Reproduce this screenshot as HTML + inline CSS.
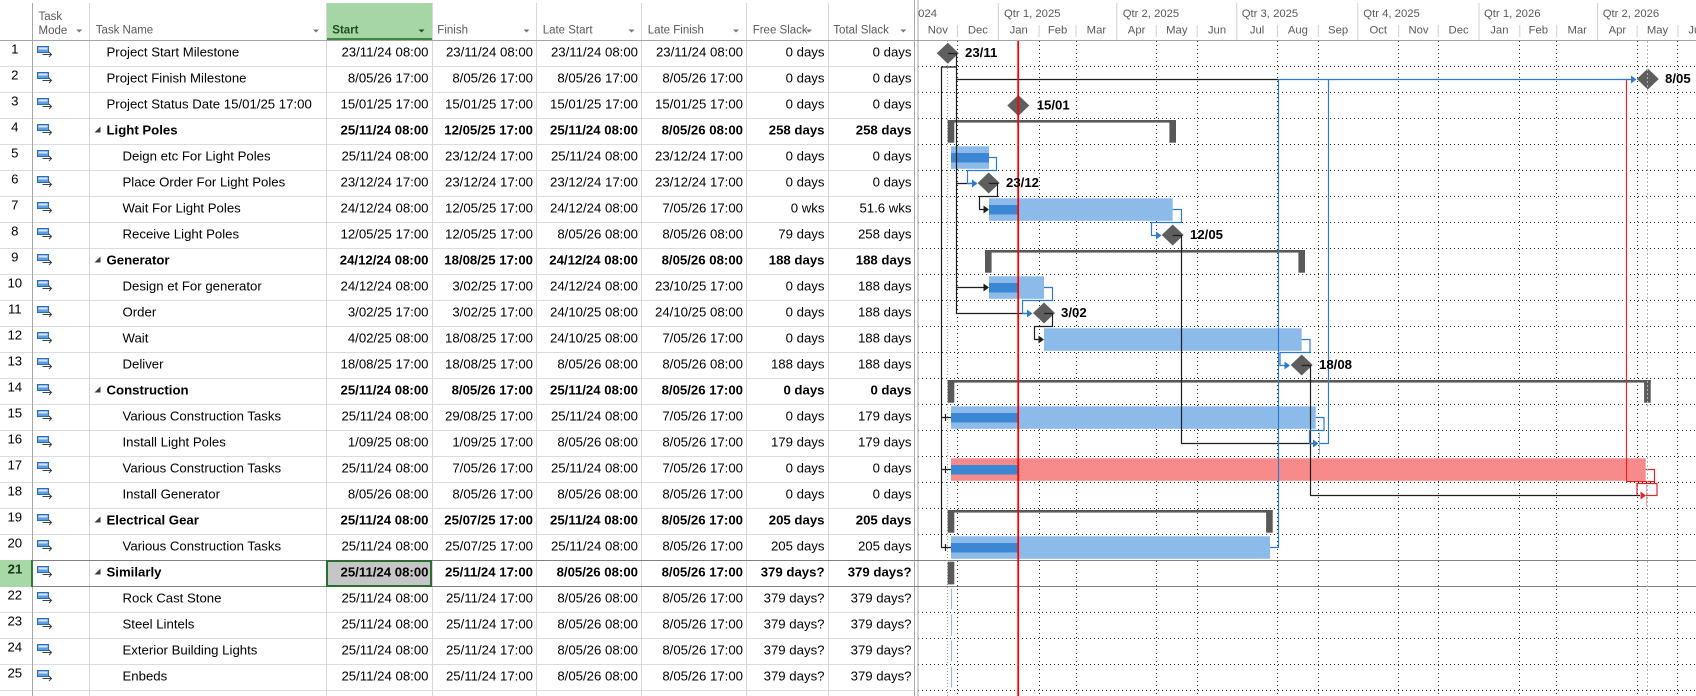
<!DOCTYPE html>
<html><head><meta charset="utf-8"><style>
html,body{margin:0;padding:0;background:#fff;width:1696px;height:696px;overflow:hidden}
svg{display:block}
text{font-family:"Liberation Sans",Arial,sans-serif}
.c text{font-size:13.2px;fill:#000}
.n{font-size:11.5px;fill:#6e6e6e;text-anchor:middle}
.e{text-anchor:end}
.b text{font-weight:bold}
.h{font-size:11.5px;fill:#5a5a5a}
.g{font-size:11.3px;fill:#5a5a5a}
.gm{font-size:11.3px;fill:#5a5a5a;text-anchor:middle}
.ml{font-size:13.2px;font-weight:bold;fill:#000}
</style></head><body>
<svg width="1696" height="696" viewBox="0 0 1696 696" xmlns="http://www.w3.org/2000/svg">
<defs>
<g id="ic"><rect x="37.5" y="6.5" width="11" height="6" fill="#5E9EDD" stroke="#2C6DB8"/><rect x="38.5" y="7.5" width="9" height="2" fill="#D4E6F8"/><path d="M42.5 14.5H51.5M49 12L51.5 14.5L49 17" fill="none" stroke="#404040" stroke-width="1"/></g>
<path id="tri" d="M94.5 14.5H100.5V8.5Z" fill="#3C3C3C"/>
<clipPath id="gc"><rect x="918.5" y="0" width="778" height="696"/></clipPath>
</defs>
<rect width="1696" height="696" fill="#fff"/>

<!-- TABLE GRID -->
<path d="M0 66.5H915M0 92.5H915M0 118.5H915M0 144.5H915M0 170.5H915M0 196.5H915M0 222.5H915M0 248.5H915M0 274.5H915M0 300.5H915M0 326.5H915M0 352.5H915M0 378.5H915M0 404.5H915M0 430.5H915M0 456.5H915M0 482.5H915M0 508.5H915M0 534.5H915M0 612.5H915M0 638.5H915M0 664.5H915M0 690.5H915" stroke="#DCDCDC" stroke-width="1"/>
<rect x="327" y="3" width="105" height="37" fill="#A6D6A6"/>
<rect x="327" y="38" width="105" height="2" fill="#3B8A3F"/>
<path d="M89.5 3V696M326.5 3V696M432.5 3V696M536.5 3V696M641.5 3V696M746.5 3V696M828.5 3V696" stroke="#D6D6D6" stroke-width="1"/>
<path d="M32.5 3V696" stroke="#A8A8A8" stroke-width="1"/>
<path d="M914.5 0V696M918 0V696" stroke="#A8A8A8" stroke-width="1"/>
<path d="M0 40.5H1696" stroke="#A6A6A6" stroke-width="1"/>
<path d="M33 560.5H1696M33 586.5H1696" stroke="#808080" stroke-width="1"/>
<rect x="0" y="560" width="32" height="27" fill="#A8D8A8"/>
<rect x="31" y="560" width="2" height="27" fill="#2E7D32"/>
<rect x="327" y="561" width="104" height="25" fill="#C6C6C6" stroke="#2A6E34" stroke-width="2"/>

<!-- TABLE HEADER -->
<text class="h" x="38.5" y="20">Task</text>
<text class="h" x="38.5" y="34">Mode</text>
<text class="h" x="95.7" y="33.5">Task Name</text>
<text class="h" x="332.3" y="33.5" style="font-weight:bold;fill:#1D4F1D">Start</text>
<text class="h" x="437.3" y="33.5">Finish</text>
<text class="h" x="542.7" y="33.5">Late Start</text>
<text class="h" x="647.7" y="33.5">Late Finish</text>
<text class="h" x="752.7" y="33.5">Free Slack</text>
<text class="h" x="833.3" y="33.5">Total Slack</text>
<path d="M76.2 29.5H82.2L79.2 32.5ZM313 29.5H319L316 32.5ZM523.5 29.5H529.5L526.5 32.5ZM628.5 29.5H634.5L631.5 32.5ZM733 29.5H739L736 32.5ZM806 29.5H812L809 32.5ZM900.3 29.5H906.3L903.3 32.5Z" fill="#777"/>
<path d="M418.5 29.5H424.5L421.5 32.5Z" fill="#1D4F1D"/>

<!-- TABLE ROWS -->
<g class="c" transform="translate(0,40)"><text class="n" x="14.8" y="13.3">1</text><use href="#ic"/><text x="106.5" y="16.5">Project Start Milestone</text><text class="e" x="428.5" y="16.5">23/11/24 08:00</text><text class="e" x="533" y="16.5">23/11/24 08:00</text><text class="e" x="638" y="16.5">23/11/24 08:00</text><text class="e" x="743" y="16.5">23/11/24 08:00</text><text class="e" x="824.5" y="16.5">0 days</text><text class="e" x="911.5" y="16.5">0 days</text></g>
<g class="c" transform="translate(0,66)"><text class="n" x="14.8" y="13.3">2</text><use href="#ic"/><text x="106.5" y="16.5">Project Finish Milestone</text><text class="e" x="428.5" y="16.5">8/05/26 17:00</text><text class="e" x="533" y="16.5">8/05/26 17:00</text><text class="e" x="638" y="16.5">8/05/26 17:00</text><text class="e" x="743" y="16.5">8/05/26 17:00</text><text class="e" x="824.5" y="16.5">0 days</text><text class="e" x="911.5" y="16.5">0 days</text></g>
<g class="c" transform="translate(0,92)"><text class="n" x="14.8" y="13.3">3</text><use href="#ic"/><text x="106.5" y="16.5">Project Status Date 15/01/25 17:00</text><text class="e" x="428.5" y="16.5">15/01/25 17:00</text><text class="e" x="533" y="16.5">15/01/25 17:00</text><text class="e" x="638" y="16.5">15/01/25 17:00</text><text class="e" x="743" y="16.5">15/01/25 17:00</text><text class="e" x="824.5" y="16.5">0 days</text><text class="e" x="911.5" y="16.5">0 days</text></g>
<g class="c b" transform="translate(0,118)"><text class="n" x="14.8" y="13.3" style="font-weight:normal">4</text><use href="#ic"/><use href="#tri"/><text x="106.5" y="16.5">Light Poles</text><text class="e" x="428.5" y="16.5">25/11/24 08:00</text><text class="e" x="533" y="16.5">12/05/25 17:00</text><text class="e" x="638" y="16.5">25/11/24 08:00</text><text class="e" x="743" y="16.5">8/05/26 08:00</text><text class="e" x="824.5" y="16.5">258 days</text><text class="e" x="911.5" y="16.5">258 days</text></g>
<g class="c" transform="translate(0,144)"><text class="n" x="14.8" y="13.3">5</text><use href="#ic"/><text x="122.5" y="16.5">Deign etc For Light Poles</text><text class="e" x="428.5" y="16.5">25/11/24 08:00</text><text class="e" x="533" y="16.5">23/12/24 17:00</text><text class="e" x="638" y="16.5">25/11/24 08:00</text><text class="e" x="743" y="16.5">23/12/24 17:00</text><text class="e" x="824.5" y="16.5">0 days</text><text class="e" x="911.5" y="16.5">0 days</text></g>
<g class="c" transform="translate(0,170)"><text class="n" x="14.8" y="13.3">6</text><use href="#ic"/><text x="122.5" y="16.5">Place Order For Light Poles</text><text class="e" x="428.5" y="16.5">23/12/24 17:00</text><text class="e" x="533" y="16.5">23/12/24 17:00</text><text class="e" x="638" y="16.5">23/12/24 17:00</text><text class="e" x="743" y="16.5">23/12/24 17:00</text><text class="e" x="824.5" y="16.5">0 days</text><text class="e" x="911.5" y="16.5">0 days</text></g>
<g class="c" transform="translate(0,196)"><text class="n" x="14.8" y="13.3">7</text><use href="#ic"/><text x="122.5" y="16.5">Wait For Light Poles</text><text class="e" x="428.5" y="16.5">24/12/24 08:00</text><text class="e" x="533" y="16.5">12/05/25 17:00</text><text class="e" x="638" y="16.5">24/12/24 08:00</text><text class="e" x="743" y="16.5">7/05/26 17:00</text><text class="e" x="824.5" y="16.5">0 wks</text><text class="e" x="911.5" y="16.5">51.6 wks</text></g>
<g class="c" transform="translate(0,222)"><text class="n" x="14.8" y="13.3">8</text><use href="#ic"/><text x="122.5" y="16.5">Receive Light Poles</text><text class="e" x="428.5" y="16.5">12/05/25 17:00</text><text class="e" x="533" y="16.5">12/05/25 17:00</text><text class="e" x="638" y="16.5">8/05/26 08:00</text><text class="e" x="743" y="16.5">8/05/26 08:00</text><text class="e" x="824.5" y="16.5">79 days</text><text class="e" x="911.5" y="16.5">258 days</text></g>
<g class="c b" transform="translate(0,248)"><text class="n" x="14.8" y="13.3" style="font-weight:normal">9</text><use href="#ic"/><use href="#tri"/><text x="106.5" y="16.5">Generator</text><text class="e" x="428.5" y="16.5">24/12/24 08:00</text><text class="e" x="533" y="16.5">18/08/25 17:00</text><text class="e" x="638" y="16.5">24/12/24 08:00</text><text class="e" x="743" y="16.5">8/05/26 08:00</text><text class="e" x="824.5" y="16.5">188 days</text><text class="e" x="911.5" y="16.5">188 days</text></g>
<g class="c" transform="translate(0,274)"><text class="n" x="14.8" y="13.3">10</text><use href="#ic"/><text x="122.5" y="16.5">Design et For generator</text><text class="e" x="428.5" y="16.5">24/12/24 08:00</text><text class="e" x="533" y="16.5">3/02/25 17:00</text><text class="e" x="638" y="16.5">24/12/24 08:00</text><text class="e" x="743" y="16.5">23/10/25 17:00</text><text class="e" x="824.5" y="16.5">0 days</text><text class="e" x="911.5" y="16.5">188 days</text></g>
<g class="c" transform="translate(0,300)"><text class="n" x="14.8" y="13.3">11</text><use href="#ic"/><text x="122.5" y="16.5">Order</text><text class="e" x="428.5" y="16.5">3/02/25 17:00</text><text class="e" x="533" y="16.5">3/02/25 17:00</text><text class="e" x="638" y="16.5">24/10/25 08:00</text><text class="e" x="743" y="16.5">24/10/25 08:00</text><text class="e" x="824.5" y="16.5">0 days</text><text class="e" x="911.5" y="16.5">188 days</text></g>
<g class="c" transform="translate(0,326)"><text class="n" x="14.8" y="13.3">12</text><use href="#ic"/><text x="122.5" y="16.5">Wait</text><text class="e" x="428.5" y="16.5">4/02/25 08:00</text><text class="e" x="533" y="16.5">18/08/25 17:00</text><text class="e" x="638" y="16.5">24/10/25 08:00</text><text class="e" x="743" y="16.5">7/05/26 17:00</text><text class="e" x="824.5" y="16.5">0 days</text><text class="e" x="911.5" y="16.5">188 days</text></g>
<g class="c" transform="translate(0,352)"><text class="n" x="14.8" y="13.3">13</text><use href="#ic"/><text x="122.5" y="16.5">Deliver</text><text class="e" x="428.5" y="16.5">18/08/25 17:00</text><text class="e" x="533" y="16.5">18/08/25 17:00</text><text class="e" x="638" y="16.5">8/05/26 08:00</text><text class="e" x="743" y="16.5">8/05/26 08:00</text><text class="e" x="824.5" y="16.5">188 days</text><text class="e" x="911.5" y="16.5">188 days</text></g>
<g class="c b" transform="translate(0,378)"><text class="n" x="14.8" y="13.3" style="font-weight:normal">14</text><use href="#ic"/><use href="#tri"/><text x="106.5" y="16.5">Construction</text><text class="e" x="428.5" y="16.5">25/11/24 08:00</text><text class="e" x="533" y="16.5">8/05/26 17:00</text><text class="e" x="638" y="16.5">25/11/24 08:00</text><text class="e" x="743" y="16.5">8/05/26 17:00</text><text class="e" x="824.5" y="16.5">0 days</text><text class="e" x="911.5" y="16.5">0 days</text></g>
<g class="c" transform="translate(0,404)"><text class="n" x="14.8" y="13.3">15</text><use href="#ic"/><text x="122.5" y="16.5">Various Construction Tasks</text><text class="e" x="428.5" y="16.5">25/11/24 08:00</text><text class="e" x="533" y="16.5">29/08/25 17:00</text><text class="e" x="638" y="16.5">25/11/24 08:00</text><text class="e" x="743" y="16.5">7/05/26 17:00</text><text class="e" x="824.5" y="16.5">0 days</text><text class="e" x="911.5" y="16.5">179 days</text></g>
<g class="c" transform="translate(0,430)"><text class="n" x="14.8" y="13.3">16</text><use href="#ic"/><text x="122.5" y="16.5">Install Light Poles</text><text class="e" x="428.5" y="16.5">1/09/25 08:00</text><text class="e" x="533" y="16.5">1/09/25 17:00</text><text class="e" x="638" y="16.5">8/05/26 08:00</text><text class="e" x="743" y="16.5">8/05/26 17:00</text><text class="e" x="824.5" y="16.5">179 days</text><text class="e" x="911.5" y="16.5">179 days</text></g>
<g class="c" transform="translate(0,456)"><text class="n" x="14.8" y="13.3">17</text><use href="#ic"/><text x="122.5" y="16.5">Various Construction Tasks</text><text class="e" x="428.5" y="16.5">25/11/24 08:00</text><text class="e" x="533" y="16.5">7/05/26 17:00</text><text class="e" x="638" y="16.5">25/11/24 08:00</text><text class="e" x="743" y="16.5">7/05/26 17:00</text><text class="e" x="824.5" y="16.5">0 days</text><text class="e" x="911.5" y="16.5">0 days</text></g>
<g class="c" transform="translate(0,482)"><text class="n" x="14.8" y="13.3">18</text><use href="#ic"/><text x="122.5" y="16.5">Install Generator</text><text class="e" x="428.5" y="16.5">8/05/26 08:00</text><text class="e" x="533" y="16.5">8/05/26 17:00</text><text class="e" x="638" y="16.5">8/05/26 08:00</text><text class="e" x="743" y="16.5">8/05/26 17:00</text><text class="e" x="824.5" y="16.5">0 days</text><text class="e" x="911.5" y="16.5">0 days</text></g>
<g class="c b" transform="translate(0,508)"><text class="n" x="14.8" y="13.3" style="font-weight:normal">19</text><use href="#ic"/><use href="#tri"/><text x="106.5" y="16.5">Electrical Gear</text><text class="e" x="428.5" y="16.5">25/11/24 08:00</text><text class="e" x="533" y="16.5">25/07/25 17:00</text><text class="e" x="638" y="16.5">25/11/24 08:00</text><text class="e" x="743" y="16.5">8/05/26 17:00</text><text class="e" x="824.5" y="16.5">205 days</text><text class="e" x="911.5" y="16.5">205 days</text></g>
<g class="c" transform="translate(0,534)"><text class="n" x="14.8" y="13.3">20</text><use href="#ic"/><text x="122.5" y="16.5">Various Construction Tasks</text><text class="e" x="428.5" y="16.5">25/11/24 08:00</text><text class="e" x="533" y="16.5">25/07/25 17:00</text><text class="e" x="638" y="16.5">25/11/24 08:00</text><text class="e" x="743" y="16.5">8/05/26 17:00</text><text class="e" x="824.5" y="16.5">205 days</text><text class="e" x="911.5" y="16.5">205 days</text></g>
<g class="c b" transform="translate(0,560)"><text class="n" x="15" y="13.3" style="fill:#163816">21</text><use href="#ic"/><use href="#tri"/><text x="106.5" y="16.5">Similarly</text><text class="e" x="428.5" y="16.5">25/11/24 08:00</text><text class="e" x="533" y="16.5">25/11/24 17:00</text><text class="e" x="638" y="16.5">8/05/26 08:00</text><text class="e" x="743" y="16.5">8/05/26 17:00</text><text class="e" x="824.5" y="16.5">379 days?</text><text class="e" x="911.5" y="16.5">379 days?</text></g>
<g class="c" transform="translate(0,586)"><text class="n" x="14.8" y="13.3">22</text><use href="#ic"/><text x="122.5" y="16.5">Rock Cast Stone</text><text class="e" x="428.5" y="16.5">25/11/24 08:00</text><text class="e" x="533" y="16.5">25/11/24 17:00</text><text class="e" x="638" y="16.5">8/05/26 08:00</text><text class="e" x="743" y="16.5">8/05/26 17:00</text><text class="e" x="824.5" y="16.5">379 days?</text><text class="e" x="911.5" y="16.5">379 days?</text></g>
<g class="c" transform="translate(0,612)"><text class="n" x="14.8" y="13.3">23</text><use href="#ic"/><text x="122.5" y="16.5">Steel Lintels</text><text class="e" x="428.5" y="16.5">25/11/24 08:00</text><text class="e" x="533" y="16.5">25/11/24 17:00</text><text class="e" x="638" y="16.5">8/05/26 08:00</text><text class="e" x="743" y="16.5">8/05/26 17:00</text><text class="e" x="824.5" y="16.5">379 days?</text><text class="e" x="911.5" y="16.5">379 days?</text></g>
<g class="c" transform="translate(0,638)"><text class="n" x="14.8" y="13.3">24</text><use href="#ic"/><text x="122.5" y="16.5">Exterior Building Lights</text><text class="e" x="428.5" y="16.5">25/11/24 08:00</text><text class="e" x="533" y="16.5">25/11/24 17:00</text><text class="e" x="638" y="16.5">8/05/26 08:00</text><text class="e" x="743" y="16.5">8/05/26 17:00</text><text class="e" x="824.5" y="16.5">379 days?</text><text class="e" x="911.5" y="16.5">379 days?</text></g>
<g class="c" transform="translate(0,664)"><text class="n" x="14.8" y="13.3">25</text><use href="#ic"/><text x="122.5" y="16.5">Enbeds</text><text class="e" x="428.5" y="16.5">25/11/24 08:00</text><text class="e" x="533" y="16.5">25/11/24 17:00</text><text class="e" x="638" y="16.5">8/05/26 08:00</text><text class="e" x="743" y="16.5">8/05/26 17:00</text><text class="e" x="824.5" y="16.5">379 days?</text><text class="e" x="911.5" y="16.5">379 days?</text></g>

<!-- GANTT -->
<g clip-path="url(#gc)">
<!-- timescale -->
<path d="M998.3 3V40M1116.8 3V40M1236.7 3V40M1357.8 3V40M1479 3V40M1597.6 3V40" stroke="#D0D0D0" stroke-width="1"/>
<path d="M957.5 25V37M1039.1 25V37M1076 25V37M1156.3 25V37M1197.2 25V37M1277.5 25V37M1318.3 25V37M1398.7 25V37M1438.2 25V37M1519.8 25V37M1556.7 25V37M1637.1 25V37M1677.9 25V37" stroke="#D0D0D0" stroke-width="1"/>
<text class="g" x="880.5" y="17">Qtr 4, 2024</text>
<text class="g" x="1004" y="17">Qtr 1, 2025</text>
<text class="g" x="1122.7" y="17">Qtr 2, 2025</text>
<text class="g" x="1241.7" y="17">Qtr 3, 2025</text>
<text class="g" x="1363.3" y="17">Qtr 4, 2025</text>
<text class="g" x="1484" y="17">Qtr 1, 2026</text>
<text class="g" x="1602.7" y="17">Qtr 2, 2026</text>
<text class="gm" x="937.8" y="33.3">Nov</text>
<text class="gm" x="977.9" y="33.3">Dec</text>
<text class="gm" x="1018.7" y="33.3">Jan</text>
<text class="gm" x="1057.6" y="33.3">Feb</text>
<text class="gm" x="1096.4" y="33.3">Mar</text>
<text class="gm" x="1136.6" y="33.3">Apr</text>
<text class="gm" x="1176.8" y="33.3">May</text>
<text class="gm" x="1217" y="33.3">Jun</text>
<text class="gm" x="1257.1" y="33.3">Jul</text>
<text class="gm" x="1297.9" y="33.3">Aug</text>
<text class="gm" x="1338.1" y="33.3">Sep</text>
<text class="gm" x="1378.3" y="33.3">Oct</text>
<text class="gm" x="1418.5" y="33.3">Nov</text>
<text class="gm" x="1458.6" y="33.3">Dec</text>
<text class="gm" x="1499.4" y="33.3">Jan</text>
<text class="gm" x="1538.3" y="33.3">Feb</text>
<text class="gm" x="1577.2" y="33.3">Mar</text>
<text class="gm" x="1617.4" y="33.3">Apr</text>
<text class="gm" x="1657.5" y="33.3">May</text>
<text class="gm" x="1697.5" y="33.3">Jun</text>

<!-- gridlines -->
<path d="M918 66.5H1696M918 92.5H1696M918 118.5H1696M918 144.5H1696M918 170.5H1696M918 196.5H1696M918 222.5H1696M918 248.5H1696M918 274.5H1696M918 300.5H1696M918 326.5H1696M918 352.5H1696M918 378.5H1696M918 404.5H1696M918 430.5H1696M918 456.5H1696M918 482.5H1696M918 508.5H1696M918 534.5H1696M918 612.5H1696M918 638.5H1696M918 664.5H1696M918 690.5H1696" stroke="#222" stroke-width="1" stroke-dasharray="1 3"/>
<path d="M957.5 41V696M1039.5 41V696M1076.5 41V696M1156.5 41V696M1197.5 41V696M1277.5 41V696M1318.5 41V696M1398.5 41V696M1438.5 41V696M1519.5 41V696M1556.5 41V696M1637.5 41V696M1677.5 41V696" stroke="#222" stroke-width="1" stroke-dasharray="1 3"/>
<path d="M947.5 41V696" stroke="#9A9A9A" stroke-width="1" stroke-dasharray="1 2"/>

<!-- task bars -->
<g fill="#8CBBEA">
<rect x="951" y="146.3" width="38" height="22.5"/>
<rect x="989" y="198.3" width="183.7" height="22.5"/>
<rect x="989" y="276.3" width="55" height="22.5"/>
<rect x="1044" y="328.3" width="257.7" height="22.5"/>
<rect x="951" y="406.3" width="364.7" height="22.5"/>
<rect x="951" y="536.3" width="319" height="22.5"/>
</g>
<rect x="951" y="458.3" width="694.7" height="22.5" fill="#F78B8B"/>
<g fill="#3B87D3">
<rect x="951" y="153" width="38" height="9.5"/>
<rect x="989" y="205" width="29" height="9.5"/>
<rect x="989" y="283" width="29" height="9.5"/>
<rect x="951" y="413" width="67" height="9.5"/>
<rect x="951" y="465" width="67" height="9.5"/>
<rect x="951" y="543" width="67" height="9.5"/>
</g>
<path d="M1319.5 432.5V454.5M951.5 588.5V609.5M951.5 614.5V635.5M951.5 640.5V661.5M951.5 666.5V687.5" stroke="#8CBBEA" stroke-width="1"/>
<path d="M1646.5 484.5V506.5" stroke="#F4A0A0" stroke-width="1"/>

<!-- summaries -->
<g fill="#595959">
<rect x="947.7" y="120" width="228.3" height="2.6"/><rect x="947.7" y="120" width="6.6" height="22.7"/><rect x="1169.4" y="120" width="6.6" height="22.7"/>
<rect x="985" y="250" width="320" height="2.6"/><rect x="985" y="250" width="6.6" height="22.7"/><rect x="1298.4" y="250" width="6.6" height="22.7"/>
<rect x="947.7" y="380" width="703" height="2.6"/><rect x="947.7" y="380" width="6.6" height="22.7"/><rect x="1644.1" y="380" width="6.6" height="22.7"/>
<rect x="947.7" y="510" width="325" height="2.6"/><rect x="947.7" y="510" width="6.6" height="22.7"/><rect x="1266.1" y="510" width="6.6" height="22.7"/>
<rect x="947.7" y="561.7" width="6.6" height="22.7"/>
</g>

<!-- milestones -->
<g fill="#5E5E5E">
<polygon points="936.8,53.3 947.8,42.8 958.8,53.3 947.8,63.8"/>
<polygon points="1636.8,79 1647.8,68.5 1658.8,79 1647.8,89.5"/>
<polygon points="1007.3,105.5 1018.3,95 1029.3,105.5 1018.3,116"/>
<polygon points="977.7,183 988.7,172.5 999.7,183 988.7,193.5"/>
<polygon points="1161.7,235 1172.7,224.5 1183.7,235 1172.7,245.5"/>
<polygon points="1033,313 1044,302.5 1055,313 1044,323.5"/>
<polygon points="1290.7,365 1301.7,354.5 1312.7,365 1301.7,375.5"/>
</g>

<!-- links -->
<g fill="none" stroke-width="1.2" stroke-linejoin="round">
<path stroke="#1E1E1E" d="M948 53.5H956.5V313.5H1028M956.5 79.5H1278M956.5 183.5H973M956.5 287.5H984M956.5 67H941.5V547.5H951M941.5 417.5H951M941.5 469.5H951M945.5 414V421M945.5 466V473M945.5 544V551M988.7 183.5H997.5V196.5H979.5V209.5H984M1172.7 235.5H1181.5V443.5H1313M1044 313.5H1052.5V326.5H1034.5V339.5H1039M1301.7 365.5H1310.5V495.5H1640"/>
<path stroke="#2B7BD3" d="M1278 79.5H1631M989 157.5H996.5V170.5H967.5V183.5H972M1172.7 209.5H1181.5V222.5H1151.5V235.5H1156M1044 287.5H1052.5V300.5H1022.5V313.5H1027M1301.7 339.5H1310V352.5H1280V365.5H1284.5M1315.7 417.5H1324V430.5H1309.5V443.5H1313M1319.5 443.5H1328.5V79.5M1270 547.5H1278.5V79.5"/>
<path stroke="#E0262B" d="M1645.7 469.5H1654.5V481.5H1626.5V79.5M1637 495.5V483.5H1657V495.5H1646"/>
</g>
<g fill="#1E1E1E">
<polygon points="983.5,205.5 989,209.5 983.5,213.5"/>
<polygon points="983.5,283.5 989,287.5 983.5,291.5"/>
<polygon points="1038.5,335.5 1044,339.5 1038.5,343.5"/>
</g>
<g fill="#2B7BD3">
<polygon points="1631,75.5 1636.5,79.5 1631,83.5"/>
<polygon points="972,179.5 977.5,183.5 972,187.5"/>
<polygon points="1156,231.5 1161.5,235.5 1156,239.5"/>
<polygon points="1027,309.5 1032.5,313.5 1027,317.5"/>
<polygon points="1284.5,361.5 1290,365.5 1284.5,369.5"/>
<polygon points="1313,439.5 1318.5,443.5 1313,447.5"/>
</g>
<polygon points="1640.5,491.5 1646,495.5 1640.5,499.5" fill="#E0262B"/>

<!-- status date -->
<path d="M1018.2 41V696" stroke="#FF0000" stroke-width="1.8"/>
<path d="M1647.5 41V696" stroke="#B0B0B0" stroke-width="1" stroke-dasharray="2 2"/>

<!-- milestone labels -->
<text class="ml" x="965" y="57">23/11</text>
<text class="ml" x="1665" y="83">8/05</text>
<text class="ml" x="1036.7" y="109.5">15/01</text>
<text class="ml" x="1006" y="187">23/12</text>
<text class="ml" x="1190" y="239">12/05</text>
<text class="ml" x="1061" y="317">3/02</text>
<text class="ml" x="1319" y="369">18/08</text>
</g>
</svg>
</body></html>
